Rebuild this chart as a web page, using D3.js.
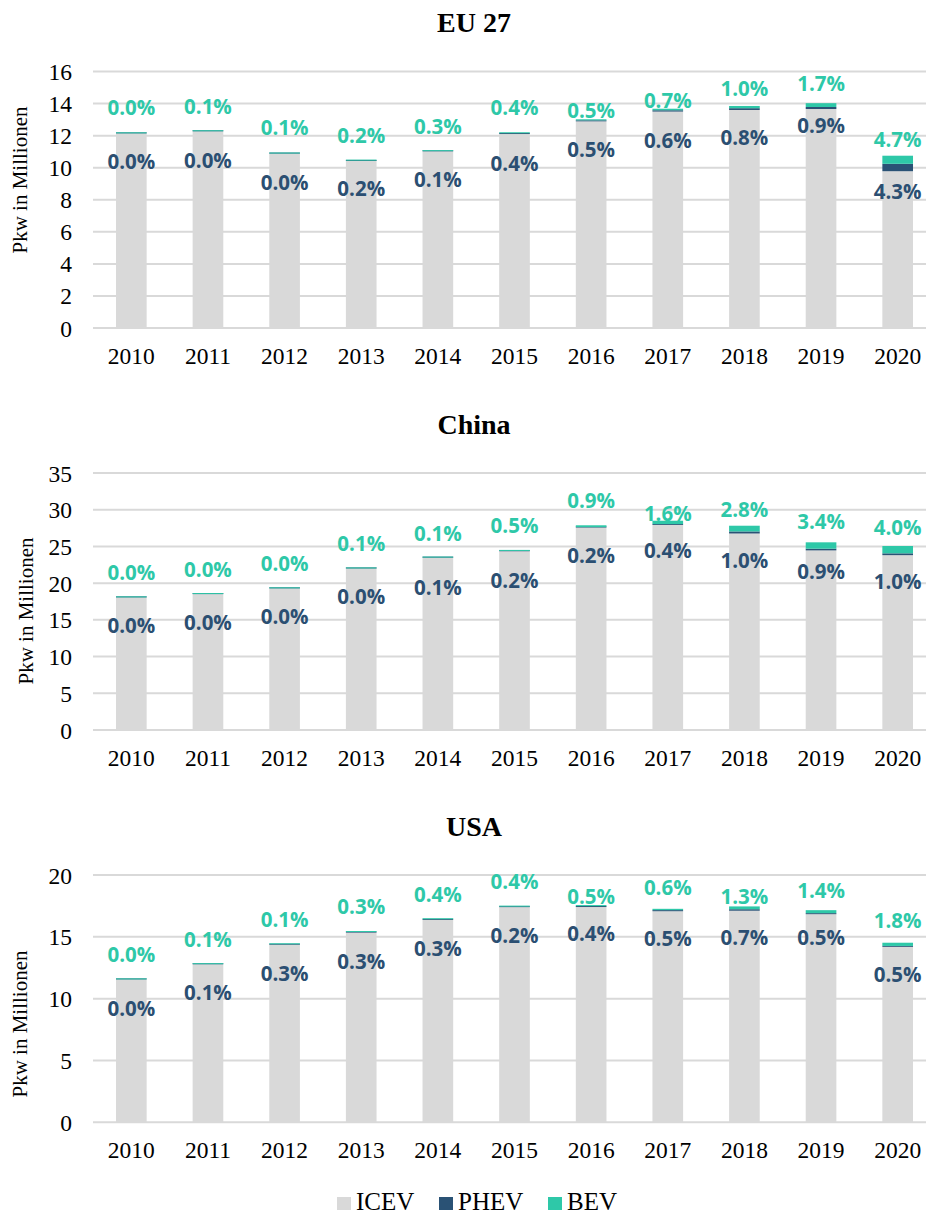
<!DOCTYPE html>
<html>
<head>
<meta charset="utf-8">
<script src="https://cdn.jsdelivr.net/npm/d3@7"></script>
<style>
  html, body { margin: 0; padding: 0; background: #fff; }
  svg { display: block; }
</style>
</head>
<body>
<svg id="chart" width="926" height="1213"></svg>
<script>
// ---------------- DATA ----------------
const years = ["2010","2011","2012","2013","2014","2015","2016","2017","2018","2019","2020"];
const seriesNames = ["ICEV","PHEV","BEV"];

// EU 27 (Pkw in Millionen)
const euICEV = [12.14, 12.27, 10.88, 10.42, 11.02, 12.10, 12.89, 13.50, 13.60, 13.66, 9.78];
const euPHEV = [0.002, 0.003, 0.004, 0.021, 0.011, 0.049, 0.065, 0.082, 0.111, 0.126, 0.462];
const euBEV  = [0.004, 0.012, 0.011, 0.021, 0.033, 0.049, 0.065, 0.096, 0.139, 0.238, 0.505];
const euPHEVLabels = ["0.0%","0.0%","0.0%","0.2%","0.1%","0.4%","0.5%","0.6%","0.8%","0.9%","4.3%"];
const euBEVLabels  = ["0.0%","0.1%","0.1%","0.2%","0.3%","0.4%","0.5%","0.7%","1.0%","1.7%","4.7%"];
const euTicks = [0, 2, 4, 6, 8, 10, 12, 14, 16];

// China
const cnICEV = [18.06, 18.51, 19.29, 22.00, 23.47, 24.34, 27.57, 27.93, 26.76, 24.46, 23.81];
const cnPHEV = [0.001, 0.002, 0.002, 0.003, 0.017, 0.05, 0.06, 0.11, 0.28, 0.23, 0.25];
const cnBEV  = [0.005, 0.006, 0.009, 0.015, 0.033, 0.12, 0.25, 0.46, 0.78, 0.87, 1.00];
const cnPHEVLabels = ["0.0%","0.0%","0.0%","0.0%","0.1%","0.2%","0.2%","0.4%","1.0%","0.9%","1.0%"];
const cnBEVLabels  = ["0.0%","0.0%","0.0%","0.1%","0.1%","0.5%","0.9%","1.6%","2.8%","3.4%","4.0%"];
const cnTicks = [0, 5, 10, 15, 20, 25, 30, 35];

// USA
const usICEV = [11.555, 12.78, 14.36, 15.34, 16.37, 17.40, 17.41, 17.07, 17.11, 16.83, 14.19];
const usPHEV = [0.003, 0.008, 0.038, 0.049, 0.055, 0.043, 0.073, 0.091, 0.122, 0.086, 0.073];
const usBEV  = [0.002, 0.010, 0.014, 0.047, 0.063, 0.070, 0.086, 0.104, 0.227, 0.240, 0.260];
const usPHEVLabels = ["0.0%","0.1%","0.3%","0.3%","0.3%","0.2%","0.4%","0.5%","0.7%","0.5%","0.5%"];
const usBEVLabels  = ["0.0%","0.1%","0.1%","0.3%","0.4%","0.4%","0.5%","0.6%","1.3%","1.4%","1.8%"];
const usTicks = [0, 5, 10, 15, 20];

const yAxisTitle = "Pkw in Millionen";

// ---------------- STYLE / LAYOUT ----------------
const colors = { ICEV: "#d9d9d9", PHEV: "#2a5275", BEV: "#2ec8a8" };
const labelColors = { PHEV: "#2b4f72", BEV: "#2ec8a8" };
const gridColor = "#d9d9d9";
const serif = "'Liberation Serif','Times New Roman',serif";
const sans = "'Open Sans','Noto Sans',sans-serif";

const plotLeft = 93, plotRight = 936;

// layout per panel (incl. manual label nudges in px, as in the original chart)
const charts = [
  { title: "EU 27", icev: euICEV, phev: euPHEV, bev: euBEV, phevLab: euPHEVLabels, bevLab: euBEVLabels,
    ticks: euTicks, yTop: 71.5, yBottom: 328, titleY: 32, yearY: 364, axisX: 20, axisY: 180,
    bevDy:  [-26,-25,-26,-25,-25,-25,-9,-9,-18,-20,-17],
    phevDy: [28,29,28,27,28,29,28,28,27,16,20] },
  { title: "China", icev: cnICEV, phev: cnPHEV, bev: cnBEV, phevLab: cnPHEVLabels, bevLab: cnBEVLabels,
    ticks: cnTicks, yTop: 473, yBottom: 730, titleY: 434, yearY: 766, axisX: 26, axisY: 611,
    bevDy:  [-25,-25,-25,-25,-24,-25,-25,-8,-17,-21,-19],
    phevDy: [28,28,28,28,29,29,27,25,26,21,26] },
  { title: "USA", icev: usICEV, phev: usPHEV, bev: usBEV, phevLab: usPHEVLabels, bevLab: usBEVLabels,
    ticks: usTicks, yTop: 875, yBottom: 1122.3, titleY: 836, yearY: 1158, axisX: 20, axisY: 1024,
    bevDy:  [-25,-25,-25,-25,-24,-25,-9,-22,-10,-20,-23],
    phevDy: [29,28,28,28,28,28,26,27,26,23,27] }
];

const svg = d3.select("#chart");

const x = d3.scaleBand().domain(years).range([plotLeft, plotRight]).paddingInner(0.6).paddingOuter(0.3);

charts.forEach(c => {
  const rows = years.map((yr, i) => ({ year: yr, ICEV: c.icev[i], PHEV: c.phev[i], BEV: c.bev[i] }));
  const stacked = d3.stack().keys(seriesNames)(rows);
  const y = d3.scaleLinear().domain([0, d3.max(c.ticks)]).range([c.yBottom, c.yTop]);
  const g = svg.append("g");

  // title
  g.append("text").attr("x", 474).attr("y", c.titleY).attr("text-anchor", "middle")
    .attr("font-family", serif).attr("font-weight", "bold").attr("font-size", 28).attr("fill", "#000")
    .text(c.title);

  // gridlines
  g.append("g").selectAll("line").data(c.ticks).join("line")
    .attr("x1", plotLeft).attr("x2", plotRight)
    .attr("y1", d => y(d)).attr("y2", d => y(d))
    .attr("stroke", gridColor).attr("stroke-width", 2);

  // y axis labels
  const yAxis = d3.axisLeft(y).tickValues(c.ticks).tickSize(0).tickPadding(0).tickFormat(d3.format("d"));
  const ya = g.append("g").attr("transform", `translate(72,0)`).call(yAxis);
  ya.select(".domain").remove();
  ya.selectAll("text").attr("font-family", serif).attr("font-size", 23.5).attr("fill", "#000")
    .attr("dy", "0.34em");

  // x axis labels
  const xAxis = d3.axisBottom(x).tickSize(0).tickPadding(0);
  const xa = g.append("g").attr("transform", `translate(0,${c.yearY})`).call(xAxis);
  xa.select(".domain").remove();
  xa.selectAll("text").attr("font-family", serif).attr("font-size", 23.5).attr("fill", "#000")
    .attr("dy", 0).attr("y", 0);

  // axis title
  g.append("text").attr("transform", `translate(${c.axisX},${c.axisY}) rotate(-90)`)
    .attr("text-anchor", "middle").attr("dominant-baseline", "central")
    .attr("font-family", serif).attr("font-size", 21).attr("fill", "#000").text(yAxisTitle);

  // bars
  stacked.forEach(layer => {
    g.append("g").selectAll("rect").data(layer).join("rect")
      .attr("x", d => x(d.data.year))
      .attr("width", x.bandwidth())
      .attr("y", d => {
        const h = y(d[0]) - y(d[1]);
        return layer.key === "ICEV" ? y(d[1]) : y(d[1]) - (h < 1 ? 1 - h : 0);
      })
      .attr("height", d => {
        const h = y(d[0]) - y(d[1]);
        return layer.key === "ICEV" ? h : Math.max(h, 1);
      })
      .attr("fill", colors[layer.key]);
  });

  // labels
  const icevLayer = stacked[0], bevLayer = stacked[2];
  g.append("g").selectAll("text").data(bevLayer).join("text")
    .attr("x", d => x(d.data.year) + x.bandwidth() / 2)
    .attr("y", (d, i) => y(d[1]) + c.bevDy[i])
    .attr("text-anchor", "middle").attr("dominant-baseline", "central")
    .attr("font-family", sans).attr("font-weight", "bold").attr("font-size", 20.5)
    .attr("fill", labelColors.BEV)
    .text((d, i) => c.bevLab[i]);
  g.append("g").selectAll("text").data(icevLayer).join("text")
    .attr("x", d => x(d.data.year) + x.bandwidth() / 2)
    .attr("y", (d, i) => y(d[1]) + c.phevDy[i])
    .attr("text-anchor", "middle").attr("dominant-baseline", "central")
    .attr("font-family", sans).attr("font-weight", "bold").attr("font-size", 20.5)
    .attr("fill", labelColors.PHEV)
    .text((d, i) => c.phevLab[i]);
});

// legend
const legendItems = [
  { key: "ICEV", x: 337 },
  { key: "PHEV", x: 439 },
  { key: "BEV", x: 548 }
];
const lg = svg.append("g");
legendItems.forEach(it => {
  lg.append("rect").attr("x", it.x).attr("y", 1197).attr("width", 14).attr("height", 13).attr("fill", colors[it.key]);
  lg.append("text").attr("x", it.x + 19).attr("y", 1209.5)
    .attr("font-family", serif).attr("font-size", 25).attr("fill", "#000").text(it.key);
});
</script>
</body>
</html>
